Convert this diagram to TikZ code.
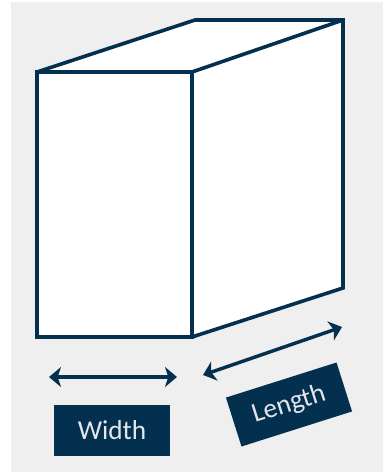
\documentclass[tikz,border=0pt]{standalone}
\usepackage{fontspec}
\setmainfont{Carlito}
\usetikzlibrary{arrows.meta}
\definecolor{BoxNavy}{HTML}{04304F}
\definecolor{PanelGray}{HTML}{EFEFEF}
\definecolor{TagText}{HTML}{E2E6E9}
\tikzset{
  edgeline/.style={BoxNavy,line width=2.7pt,line join=miter},
  dimarrow/.style={BoxNavy,line width=2.6pt,>={Stealth[length=9pt,width=15pt,inset=2.5pt]},<->},
  tagbox/.style={fill=BoxNavy,text=TagText,font=\fontsize{20.5}{22}\selectfont,inner sep=0pt,minimum height=38.5pt},
}
\begin{document}
\begin{tikzpicture}[x=0.75pt,y=-0.75pt]
  \useasboundingbox (0,0) rectangle (383,472);
  \fill[white] (0,0) rectangle (383,472);
  \fill[PanelGray] (11,2) rectangle (383,472);
  % --- corners of the box ---
  \coordinate (ftl) at (37,72);
  \coordinate (ftr) at (192,72);
  \coordinate (fbl) at (37,337);
  \coordinate (fbr) at (192,337);
  \coordinate (btl) at (195,20);
  \coordinate (btr) at (343,20);
  \coordinate (bbr) at (343,288);
  \fill[white] (ftl)--(btl)--(btr)--(bbr)--(fbr)--(fbl)--cycle;
  \draw[edgeline] (ftl) rectangle (fbr);
  \draw[edgeline] (ftl)--(btl)--(btr)--(bbr)--(fbr);
  \draw[edgeline] (ftr)--(btr);
  % --- dimension arrows ---
  \coordinate (wl) at (49,377);
  \coordinate (wr) at (177,377);
  \coordinate (ll) at (203,375);
  \coordinate (lr) at (342,327);
  \draw[dimarrow] (wl)--(wr);
  \draw[dimarrow] (ll)--(lr);
  % --- labels ---
  \node[tagbox,minimum width=87pt] (width) at (112,430.5) {Width};
  \node[tagbox,minimum width=87pt,rotate=17.6] (length) at (289,404.5) {Length};
\end{tikzpicture}
\end{document}
